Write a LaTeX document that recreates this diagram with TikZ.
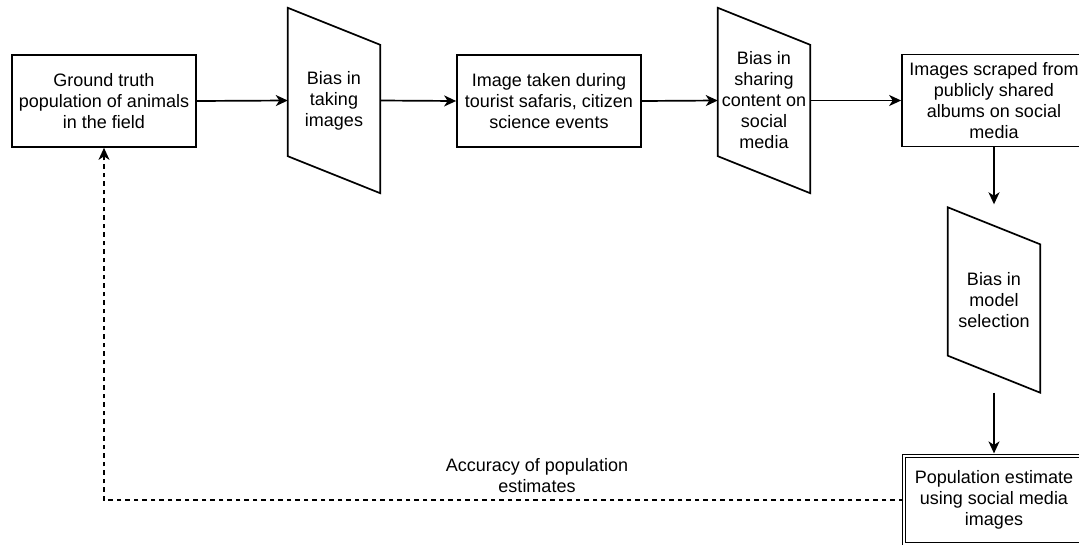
\documentclass[tikz,border=0pt]{standalone}
\usepackage{fontspec}
\setmainfont{Liberation Sans}
\usetikzlibrary{arrows.meta}
\begin{document}
\begin{tikzpicture}[x=1pt,y=-1pt,
  every node/.style={font=\fontsize{18}{21}\selectfont, align=center, inner sep=0pt},
  box/.style={draw, line width=1.7pt, minimum width=184pt, minimum height=92pt},
  dbox/.style={draw, line width=1.2pt, double, double distance=2pt, minimum width=180pt, minimum height=88pt},
  slant/.style={minimum width=92pt, minimum height=185pt},
  outline/.style={draw, line width=1.7pt, line join=miter},
  arr/.style={line width=1.7pt, -{Stealth[length=12pt,width=11pt,inset=3.5pt]}},
  fb/.style={line width=1.5pt, dash pattern=on 4.5pt off 4pt, -{Stealth[length=12pt,width=11pt,inset=3.5pt]}}]
\useasboundingbox (0,0) rectangle (1079,544);
% nodes
\node[box] (gt) at (104,101) {Ground truth\\population of animals\\in the field};
\node[slant] (b1) at (334,100.5) {Bias in\\taking\\images};
\node[box] (img) at (549,101) {Image taken during\\tourist safaris, citizen\\science events};
\node[slant] (b2) at (764,100.5) {Bias in\\sharing\\content on\\social\\media};
\node[box] (sc) at (994,100.5) {Images scraped from\\publicly shared\\albums on social\\media};
\node[slant] (b3) at (994,300) {Bias in\\model\\selection};
\node[dbox] (pe) at (994,500) {Population estimate\\using social media\\images};
\node (lbl) at (537,476) {Accuracy of population\\estimates};
% parallelogram outlines
\foreach \n in {b1,b2,b3}{
  \draw[outline] (\n.north west) -- ([yshift=-37pt]\n.north east) -- (\n.south east) -- ([yshift=37pt]\n.south west) -- cycle;
}
% connectors
\draw[arr] (gt.east) -- (b1.west);
\draw[arr] (b1.east) -- (img.west);
\draw[arr] (img.east) -- (b2.west);
\draw[arr] (b2.east) -- (sc.west);
\draw[arr] (sc.south) -- ([yshift=3pt]b3.north);
\draw[arr] (b3.south) -- ([yshift=2pt]pe.north);
\draw[fb] (pe.west) -| (gt.south);
\end{tikzpicture}
\end{document}
